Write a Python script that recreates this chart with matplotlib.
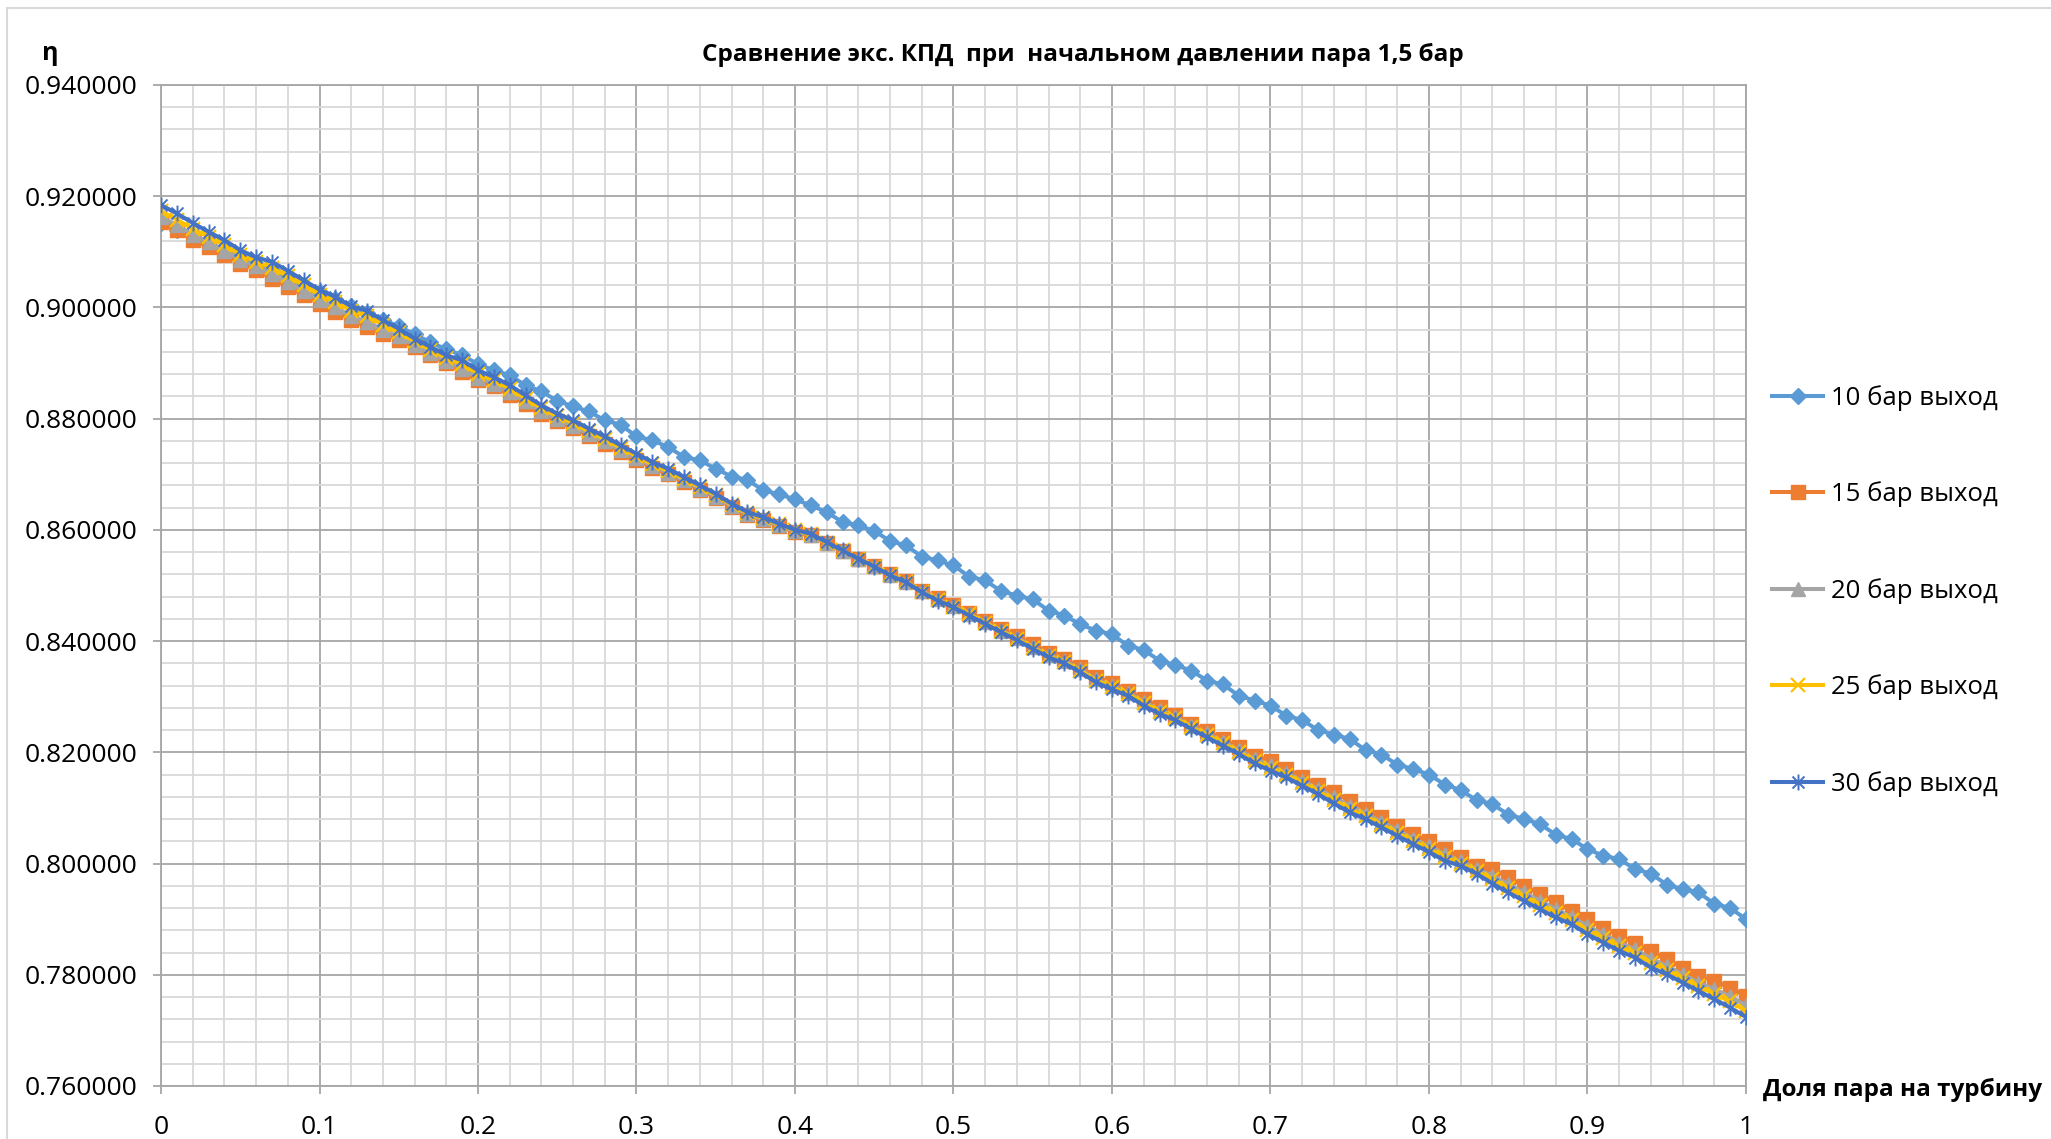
import numpy as np
import matplotlib
matplotlib.use("Agg")
import matplotlib.pyplot as plt
from matplotlib.path import Path
from matplotlib.patches import Rectangle
from matplotlib.ticker import MultipleLocator, FuncFormatter

plt.rcParams['font.family'] = ['Open Sans', 'DejaVu Sans']

# ---- data ----
x_share = np.linspace(0.0, 1.0, 101)   # Доля пара на турбину, step 0.01

eta_10 = [
    0.9152, 0.9140, 0.9128, 0.9118, 0.9102, 0.9090, 0.9078, 0.9068, 0.9052, 0.9040,
    0.9027, 0.9016, 0.9002, 0.8990, 0.8978, 0.8966, 0.8952, 0.8937, 0.8925, 0.8914,
    0.8898, 0.8887, 0.8878, 0.8860, 0.8849, 0.8832, 0.8822, 0.8813, 0.8797, 0.8789,
    0.8768, 0.8761, 0.8749, 0.8731, 0.8725, 0.8710, 0.8696, 0.8690, 0.8671, 0.8664,
    0.8655, 0.8644, 0.8632, 0.8614, 0.8608, 0.8598, 0.8580, 0.8572, 0.8552, 0.8545,
    0.8536, 0.8516, 0.8509, 0.8490, 0.8482, 0.8475, 0.8455, 0.8446, 0.8430, 0.8419,
    0.8412, 0.8392, 0.8384, 0.8365, 0.8357, 0.8347, 0.8329, 0.8322, 0.8302, 0.8293,
    0.8284, 0.8266, 0.8258, 0.8240, 0.8232, 0.8224, 0.8204, 0.8196, 0.8178, 0.8170,
    0.8160, 0.8142, 0.8132, 0.8114, 0.8107, 0.8088, 0.8080, 0.8071, 0.8052, 0.8044,
    0.8026, 0.8014, 0.8008, 0.7990, 0.7982, 0.7962, 0.7954, 0.7948, 0.7928, 0.7920,
    0.7900]

eta_15 = [
    0.9154, 0.9139, 0.9122, 0.9109, 0.9094, 0.9079, 0.9067, 0.9052, 0.9037, 0.9022,
    0.9007, 0.8992, 0.8978, 0.8965, 0.8953, 0.8942, 0.8929, 0.8914, 0.8900, 0.8884,
    0.8869, 0.8858, 0.8843, 0.8826, 0.8809, 0.8795, 0.8783, 0.8769, 0.8755, 0.8740,
    0.8726, 0.8712, 0.8700, 0.8686, 0.8672, 0.8658, 0.8641, 0.8627, 0.8618, 0.8607,
    0.8597, 0.8590, 0.8576, 0.8562, 0.8548, 0.8535, 0.8520, 0.8508, 0.8491, 0.8477,
    0.8465, 0.8451, 0.8437, 0.8422, 0.8409, 0.8394, 0.8379, 0.8368, 0.8353, 0.8336,
    0.8325, 0.8311, 0.8296, 0.8282, 0.8268, 0.8251, 0.8239, 0.8224, 0.8209, 0.8194,
    0.8185, 0.8170, 0.8156, 0.8142, 0.8128, 0.8113, 0.8098, 0.8083, 0.8068, 0.8053,
    0.8040, 0.8026, 0.8011, 0.7996, 0.7990, 0.7975, 0.7960, 0.7945, 0.7930, 0.7915,
    0.7900, 0.7885, 0.7870, 0.7858, 0.7842, 0.7828, 0.7813, 0.7798, 0.7789, 0.7777,
    0.7762]

eta_20 = [
    0.9163, 0.9148, 0.9131, 0.9117, 0.9102, 0.9086, 0.9074, 0.9061, 0.9046, 0.9030,
    0.9014, 0.9000, 0.8985, 0.8974, 0.8960, 0.8948, 0.8933, 0.8918, 0.8904, 0.8890,
    0.8874, 0.8863, 0.8848, 0.8831, 0.8813, 0.8799, 0.8787, 0.8773, 0.8759, 0.8744,
    0.8729, 0.8715, 0.8703, 0.8689, 0.8674, 0.8660, 0.8643, 0.8628, 0.8619, 0.8608,
    0.8598, 0.8591, 0.8577, 0.8562, 0.8548, 0.8535, 0.8519, 0.8507, 0.8490, 0.8475,
    0.8463, 0.8449, 0.8434, 0.8419, 0.8406, 0.8390, 0.8375, 0.8364, 0.8349, 0.8331,
    0.8320, 0.8307, 0.8291, 0.8276, 0.8264, 0.8247, 0.8234, 0.8219, 0.8204, 0.8188,
    0.8177, 0.8163, 0.8149, 0.8134, 0.8119, 0.8104, 0.8090, 0.8075, 0.8060, 0.8045,
    0.8031, 0.8017, 0.8004, 0.7990, 0.7978, 0.7963, 0.7948, 0.7933, 0.7918, 0.7904,
    0.7888, 0.7873, 0.7858, 0.7846, 0.7829, 0.7816, 0.7801, 0.7786, 0.7774, 0.7761,
    0.7745]

eta_25 = [
    0.9173, 0.9158, 0.9141, 0.9127, 0.9112, 0.9095, 0.9082, 0.9071, 0.9056, 0.9040,
    0.9023, 0.9010, 0.8994, 0.8984, 0.8969, 0.8955, 0.8939, 0.8924, 0.8909, 0.8898,
    0.8881, 0.8869, 0.8854, 0.8836, 0.8819, 0.8804, 0.8792, 0.8777, 0.8763, 0.8748,
    0.8733, 0.8718, 0.8706, 0.8692, 0.8677, 0.8663, 0.8645, 0.8630, 0.8621, 0.8610,
    0.8599, 0.8592, 0.8577, 0.8563, 0.8548, 0.8534, 0.8519, 0.8507, 0.8489, 0.8474,
    0.8462, 0.8448, 0.8433, 0.8418, 0.8404, 0.8388, 0.8373, 0.8362, 0.8347, 0.8329,
    0.8317, 0.8305, 0.8288, 0.8273, 0.8261, 0.8245, 0.8231, 0.8216, 0.8201, 0.8184,
    0.8172, 0.8160, 0.8145, 0.8130, 0.8114, 0.8098, 0.8085, 0.8070, 0.8055, 0.8040,
    0.8027, 0.8011, 0.8000, 0.7986, 0.7972, 0.7956, 0.7941, 0.7926, 0.7911, 0.7898,
    0.7881, 0.7866, 0.7851, 0.7839, 0.7822, 0.7809, 0.7794, 0.7779, 0.7766, 0.7752,
    0.7735]

eta_30 = [
    0.9184, 0.9169, 0.9152, 0.9136, 0.9121, 0.9103, 0.9090, 0.9082, 0.9066, 0.9049,
    0.9032, 0.9019, 0.9002, 0.8994, 0.8977, 0.8962, 0.8944, 0.8929, 0.8914, 0.8905,
    0.8887, 0.8875, 0.8860, 0.8842, 0.8824, 0.8809, 0.8797, 0.8782, 0.8768, 0.8752,
    0.8737, 0.8722, 0.8710, 0.8695, 0.8680, 0.8665, 0.8647, 0.8632, 0.8623, 0.8611,
    0.8600, 0.8593, 0.8578, 0.8563, 0.8548, 0.8534, 0.8518, 0.8506, 0.8488, 0.8473,
    0.8461, 0.8446, 0.8431, 0.8416, 0.8402, 0.8386, 0.8371, 0.8360, 0.8344, 0.8326,
    0.8313, 0.8302, 0.8284, 0.8269, 0.8258, 0.8242, 0.8227, 0.8212, 0.8197, 0.8180,
    0.8167, 0.8155, 0.8140, 0.8125, 0.8108, 0.8092, 0.8080, 0.8065, 0.8050, 0.8035,
    0.8021, 0.8005, 0.7996, 0.7982, 0.7964, 0.7948, 0.7933, 0.7918, 0.7903, 0.7891,
    0.7873, 0.7858, 0.7843, 0.7831, 0.7813, 0.7801, 0.7786, 0.7771, 0.7756, 0.7741,
    0.7724]

series_labels = ["10 бар выход", "15 бар выход", "20 бар выход", "25 бар выход", "30 бар выход"]
title_text = "Сравнение экс. КПД  при  начальном давлении пара 1,5 бар"
x_label = "Доля пара на турбину"
y_label = "η"
y_ticks = [0.76, 0.78, 0.80, 0.82, 0.84, 0.86, 0.88, 0.90, 0.92, 0.94]
x_ticks = [0, 0.1, 0.2, 0.3, 0.4, 0.5, 0.6, 0.7, 0.8, 0.9, 1.0]
x_tick_labels = ["0", "0.1", "0.2", "0.3", "0.4", "0.5", "0.6", "0.7", "0.8", "0.9", "1"]

# ---- style ----
W, H = 2051, 1139
fig = plt.figure(figsize=(W / 100, H / 100), dpi=100)
fig.patch.set_facecolor("white")

# outer chart border
fig.patches.append(Rectangle((7 / W, -0.05), 1.2, (H - 8) / H + 0.05, transform=fig.transFigure,
                             fill=False, edgecolor="#D9D9D9", linewidth=1.5, zorder=0))

L, R, T, B = 161, 1746, 85, 1086
ax = fig.add_axes([L / W, 1 - B / H, (R - L) / W, (B - T) / H])

asterisk = Path([(0, -1), (0, 1), (-0.75, -0.75), (0.75, 0.75), (-0.75, 0.75), (0.75, -0.75)],
                [Path.MOVETO, Path.LINETO, Path.MOVETO, Path.LINETO, Path.MOVETO, Path.LINETO])

colors = ["#5B9BD5", "#ED7D31", "#A5A5A5", "#FFC000", "#4472C4"]
styles = [
    dict(marker="D", ms=7.8, mfc=colors[0], mec=colors[0], mew=1.0),
    dict(marker="s", ms=10, mfc=colors[1], mec=colors[1], mew=1.0),
    dict(marker="^", ms=10, mfc=colors[2], mec=colors[2], mew=1.0),
    dict(marker="x", ms=9.5, mfc="none", mec=colors[3], mew=1.6),
    dict(marker=asterisk, ms=11.5, mfc="none", mec=colors[4], mew=1.4),
]
all_series = [eta_10, eta_15, eta_20, eta_25, eta_30]
for vals, lab, col, st in zip(all_series, series_labels, colors, styles):
    ax.plot(x_share, vals, color=col, lw=2.9, label=lab, zorder=3, **st)

ax.set_xlim(0, 1)
ax.set_ylim(0.76, 0.94)
ax.set_xticks(x_ticks)
ax.set_xticklabels(x_tick_labels)
ax.set_yticks(y_ticks)
ax.yaxis.set_major_formatter(FuncFormatter(lambda v, p: f"{v:.6f}"))
ax.xaxis.set_minor_locator(MultipleLocator(0.02))
ax.yaxis.set_minor_locator(MultipleLocator(0.004))

ax.grid(which="major", color="#A6A6A6", linewidth=1.3, zorder=1)
ax.grid(which="minor", color="#D9D9D9", linewidth=1.3, zorder=0)
ax.set_axisbelow(True)
for sp in ax.spines.values():
    sp.set_color("#A6A6A6")
    sp.set_linewidth(1.3)

ax.tick_params(axis="both", which="major", direction="out", length=6, width=1.3,
               color="#A6A6A6", labelsize=19, labelcolor="black")
ax.tick_params(axis="y", which="major", pad=11)
ax.tick_params(axis="x", which="major", pad=15)
ax.tick_params(axis="both", which="minor", length=0)

fig.text(1083 / W, 1 - 55 / H, title_text, ha="center", va="center",
         fontsize=17.5, fontweight="bold")
fig.text(50 / W, 1 - 53 / H, y_label, ha="center", va="center",
         fontsize=18, fontweight="bold")
fig.text(1763 / W, 1 - 1090 / H, x_label, ha="left", va="center",
         fontsize=17.5, fontweight="bold")

leg = fig.legend(loc="center left", bbox_to_anchor=(1772 / W, 1 - 591 / H),
                 frameon=False, fontsize=18.5, handlelength=2.0, handletextpad=0.3,
                 labelspacing=2.75, borderpad=0, borderaxespad=0)

fig.savefig("out.png", dpi=100)
